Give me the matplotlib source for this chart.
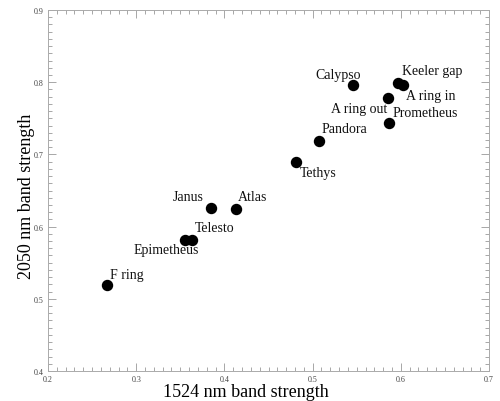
from matplotlib import pyplot as plt
from matplotlib.ticker import MultipleLocator

names = ['F ring', 'Epimetheus', 'Telesto', 'Janus', 'Atlas', 'Tethys',
         'Pandora', 'Calypso', 'Keeler gap', 'A ring in', 'A ring out', 'Prometheus']
band_1524 = [0.267, 0.355, 0.363, 0.385, 0.413, 0.481,
             0.507, 0.546, 0.597, 0.602, 0.585, 0.587]
band_2050 = [0.519, 0.582, 0.582, 0.626, 0.625, 0.689,
             0.719, 0.796, 0.799, 0.796, 0.778, 0.743]

# label placement: (dx, dy) in pixels from the dot, horizontal alignment
label_pos = {
    'F ring': (3, 11, 'left'),
    'Epimetheus': (-18, -10, 'center'),
    'Telesto': (3, 12, 'left'),
    'Janus': (-8, 11, 'right'),
    'Atlas': (2, 12, 'left'),
    'Tethys': (4, -10, 'left'),
    'Pandora': (3, 12, 'left'),
    'Calypso': (-15, 11, 'center'),
    'Keeler gap': (4, 12, 'left'),
    'A ring in': (3, -10, 'left'),
    'A ring out': (0, -10, 'right'),
    'Prometheus': (3, 11, 'left'),
}

plt.rcParams['font.family'] = ['Liberation Serif', 'DejaVu Serif']

figure = plt.figure(figsize=(5, 4.02), dpi=100)
axes = figure.add_axes([0.096, 0.0746, 0.882, 0.898])

axes.plot(band_1524, band_2050, 'o', color='black', markersize=7.2, linestyle='none')
for name, x, y in zip(names, band_1524, band_2050):
    dx, dy, ha = label_pos[name]
    axes.annotate(name, (x, y), xytext=(dx, dy), textcoords='offset pixels',
                  ha=ha, va='center', fontsize=10, color='#111111')

axes.set_xlim(0.2, 0.7)
axes.set_ylim(0.4, 0.9)
axes.xaxis.set_major_locator(MultipleLocator(0.1))
axes.xaxis.set_minor_locator(MultipleLocator(0.01))
axes.yaxis.set_major_locator(MultipleLocator(0.1))
axes.yaxis.set_minor_locator(MultipleLocator(0.01))
axes.tick_params(which='both', direction='in', top=True, right=True,
                 color='#999999', width=0.6, labelsize=5.8, labelcolor='#444444')
axes.tick_params(which='major', length=6)
axes.tick_params(which='minor', length=3)
axes.tick_params(axis='x', pad=3)
axes.tick_params(axis='y', pad=3)
for spine in axes.spines.values():
    spine.set_color('#aaaaaa')
    spine.set_linewidth(0.7)

axes.set_xlabel('1524 nm band strength', fontsize=13)
axes.set_ylabel('2050 nm band strength', fontsize=13)
axes.xaxis.set_label_coords(0.449, -0.033)
axes.yaxis.set_label_coords(-0.030, 0.487)

figure.savefig('out.png', dpi=100)
